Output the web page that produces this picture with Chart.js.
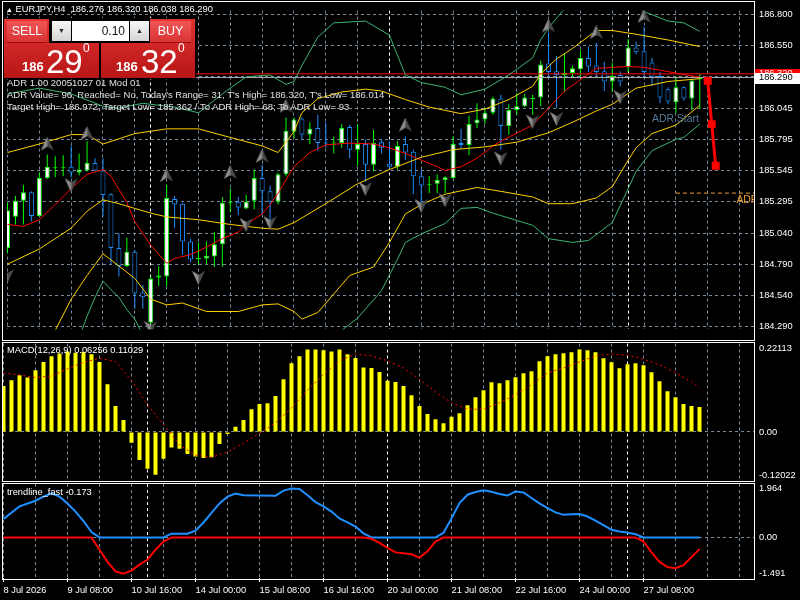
<!DOCTYPE html>
<html>
<head>
<meta charset="utf-8">
<script src="https://cdn.jsdelivr.net/npm/chart.js@4.4.1/dist/chart.umd.min.js"></script>
<style>
  html, body { margin: 0; padding: 0; background: #000; }
  body { width: 800px; height: 600px; position: relative; overflow: hidden; font-family: "Liberation Sans", Arial, sans-serif; }
  canvas { position: absolute; left: 0; z-index: 0; }
  #cMain { top: 0; }
  #cMacd { top: 340px; }
  #cTrend { top: 482px; }
  .frame { position: absolute; left: 2px; width: 753px; border: 1px solid #fff; box-sizing: border-box; z-index: 1; }
  .txt { position: absolute; color: #fff; font-size: 9.3px; white-space: pre; line-height: 12px; z-index: 2; }
  .adr { color: #e0e0e0; font-size: 9.5px; left: 7px; }
  #trade div { position: absolute; z-index: 3; }
  .blk { background: linear-gradient(#e23232, #b81616); }
  .btn { height: 21px; background: linear-gradient(#ef5656, #d93434); border-bottom: 1px solid #9a1010; color: #fff; font-size: 12.5px; line-height: 21px; text-align: center; }
  .arr { top: 21px; width: 19px; height: 20px; background: linear-gradient(#f6f6f6, #d6d6d6); font-size: 7px; line-height: 20px; text-align: center; color: #222; }
  .lot { left: 72px; top: 21px; width: 57px; height: 20px; background: #fff; font-size: 12px; line-height: 20px; text-align: right; padding-right: 4px; box-sizing: border-box; color: #111; }
  .ps { color: #fff; font-size: 13px; font-weight: bold; top: 60px; line-height: 13px; }
  .pb { color: #fff; font-size: 33px; top: 45px; line-height: 33px; }
  .pu { color: #fff; font-size: 12px; top: 42px; line-height: 12px; }
</style>
</head>
<body>
<canvas id="cMain" width="800" height="340"></canvas>
<canvas id="cMacd" width="800" height="142"></canvas>
<canvas id="cTrend" width="800" height="118"></canvas>

<div class="frame" style="top:1px;height:340px"></div>
<div class="frame" style="top:342px;height:140px"></div>
<div class="frame" style="top:483px;height:97px"></div>

<div class="txt" style="left:6px;top:3px"><span style="font-size:7px">▲</span> EURJPY,H4  186.276 186.320 186.038 186.290</div>
<div class="txt adr" style="top:77px">ADR 1.00 20051027 01 Mod 01</div>
<div class="txt adr" style="top:89px">ADR Value= 96, Reached= No, Today's Range= 31, T's High= 186.320, T's Low= 186.014</div>
<div class="txt adr" style="top:101px">Target High= 186.972; Target Low= 185.362 / To ADR High= 68; To ADR Low= 93</div>
<div class="txt" style="left:7px;top:344px">MACD(12,26,9) 0.06256 0.11029</div>
<div class="txt" style="left:7px;top:486px">trendline_fast -0.173</div>

<div id="trade">
  <div style="left:3px;top:18px;width:193px;height:61px;background:#000"></div>
  <div class="blk" style="left:4px;top:19px;width:95px;height:59px"></div>
  <div class="blk" style="left:101px;top:19px;width:94px;height:59px"></div>
  <div class="btn" style="left:7px;top:21px;width:40px">SELL</div>
  <div class="btn" style="left:150px;top:21px;width:41px">BUY</div>
  <div style="left:49px;top:18px;width:101px;height:25px;background:#000"></div>
  <div class="arr" style="left:52px">▼</div>
  <div class="lot">0.10</div>
  <div class="arr" style="left:130px">▲</div>
  <div class="ps" style="left:22px">186</div>
  <div class="pb" style="left:46px">29</div>
  <div class="pu" style="left:83px">0</div>
  <div class="ps" style="left:116px">186</div>
  <div class="pb" style="left:141px">32</div>
  <div class="pu" style="left:178px">0</div>
</div>

<script>
// ---- candles EURJPY H4 ----
var opens = [184.920,185.171,185.300,185.369,185.179,185.483,185.562,185.562,185.574,185.528,
  185.543,185.604,185.543,185.353,184.920,184.776,184.890,184.563,184.320,184.685,
  184.692,185.315,185.277,184.973,184.833,184.837,184.852,184.951,185.281,185.293,
  185.239,185.300,185.483,185.376,185.293,185.513,185.855,185.961,185.832,185.885,
  185.768,185.760,185.764,185.893,185.711,185.756,185.589,185.771,185.597,185.574,
  185.756,185.695,185.498,185.426,185.437,185.467,185.483,185.764,185.749,185.923,
  185.954,186.007,186.121,185.901,186.030,186.060,186.117,186.129,186.402,186.341,
  186.311,186.326,186.357,186.448,186.387,186.341,186.258,186.311,186.372,186.531,
  186.501,186.410,186.303,186.197,186.091,186.212,186.121,186.276];
var highs = [185.285,185.338,185.429,185.376,185.528,185.673,185.657,185.665,185.741,185.680,
  185.779,185.642,185.642,185.361,185.042,185.004,184.905,184.624,184.692,184.776,
  185.429,185.338,185.283,184.996,184.966,184.973,185.049,185.331,185.399,185.331,
  185.346,185.551,185.589,185.422,185.528,185.969,185.969,185.969,185.931,185.992,
  185.931,185.817,185.916,185.908,185.916,185.794,185.870,185.794,185.779,185.779,
  185.817,185.711,185.551,185.498,185.513,185.498,185.817,185.878,185.984,186.083,
  186.045,186.136,186.151,186.075,186.167,186.159,186.151,186.425,186.653,186.463,
  186.486,186.387,186.509,186.539,186.569,186.417,186.410,186.341,186.600,186.577,
  186.699,186.448,186.334,186.212,186.296,186.220,186.281,186.320];
var lows = [184.882,185.110,185.110,185.133,185.171,185.475,185.490,185.498,185.490,185.505,
  185.536,185.536,185.171,184.791,184.692,184.768,184.434,184.434,184.312,184.616,
  184.616,185.080,184.867,184.806,184.791,184.791,184.768,184.768,185.209,185.186,
  185.232,185.232,185.194,185.148,185.270,185.498,185.802,185.794,185.756,185.703,
  185.726,185.680,185.726,185.642,185.581,185.452,185.536,185.680,185.551,185.551,
  185.627,185.353,185.285,185.361,185.361,185.361,185.475,185.718,185.665,185.885,
  185.916,185.992,185.711,185.832,185.992,186.053,185.992,186.060,186.288,186.045,
  186.174,186.288,186.296,186.334,186.303,186.182,186.174,186.220,186.334,186.478,
  186.296,186.220,186.083,186.075,186.007,186.106,186.030,186.038];
var closes = [185.224,185.300,185.369,185.179,185.483,185.574,185.570,185.570,185.528,185.551,
  185.604,185.543,185.346,184.920,184.776,184.890,184.555,184.525,184.677,184.700,
  185.323,185.270,184.973,184.829,184.840,184.859,184.951,185.285,185.289,185.247,
  185.293,185.483,185.376,185.293,185.513,185.863,185.954,185.832,185.878,185.764,
  185.760,185.768,185.885,185.711,185.756,185.589,185.764,185.726,185.574,185.741,
  185.688,185.498,185.422,185.433,185.467,185.490,185.756,185.749,185.916,185.954,
  186.007,186.121,185.901,186.030,186.060,186.129,186.125,186.395,186.334,186.311,
  186.326,186.364,186.448,186.379,186.334,186.258,186.303,186.258,186.531,186.493,
  186.334,186.296,186.129,186.098,186.212,186.121,186.265,186.290];

// ---- indicator lines on price chart [bar, price] ----
var upperGreen = [[0,186.159],[4,186.205],[8,186.159],[12,186.060],[14,186.045],[17,186.083],[21,186.053],
  [24,186.007],[27,186.159],[30,186.296],[33,186.311],[35,186.235],[36,186.258],[37,186.387],[39,186.615],
  [41,186.729],[45,186.744],[48,186.630],[50,186.311],[52,186.250],[55,186.212],[57,186.151],[60,186.197],
  [63,186.311],[66,186.448],[67,186.592],[68,186.691],[70,186.843],[73,186.957],[77,186.934],[80,186.820],
  [83,186.744],[85,186.729],[87,186.661]];
var upperYellow = [[0,185.688],[4,185.756],[8,185.832],[10,185.832],[12,185.756],[16,185.840],[20,185.878],
  [24,185.878],[28,185.809],[32,185.741],[34,185.688],[36,185.855],[37,186.007],[39,186.121],[42,186.174],
  [45,186.197],[47,186.182],[50,186.113],[53,186.053],[57,186.000],[60,186.037],[63,186.113],[66,186.220],
  [67,186.319],[69,186.440],[71,186.524],[74,186.668],[76,186.668],[79,186.638],[83,186.592],[87,186.539]];
var midYellow = [[0,184.791],[4,184.913],[8,185.080],[10,185.217],[12,185.308],[14,185.277],[16,185.239],
  [18,185.201],[20,185.171],[24,185.148],[28,185.110],[32,185.080],[34,185.072],[36,185.125],[40,185.277],
  [44,185.437],[48,185.551],[52,185.650],[56,185.711],[60,185.733],[64,185.771],[68,185.847],[71,185.931],
  [74,186.022],[76,186.075],[79,186.205],[83,186.258],[87,186.281]];
var lowYellow = [[0,183.803],[4,184.069],[6,184.259],[8,184.510],[10,184.700],[12,184.875],[14,184.776],
  [16,184.677],[18,184.510],[20,184.464],[22,184.479],[25,184.411],[29,184.411],[32,184.464],[34,184.472],
  [36,184.411],[37,184.350],[39,184.403],[43,184.700],[46,184.768],[48,184.966],[50,185.194],[52,185.270],
  [55,185.353],[59,185.407],[62,185.376],[66,185.331],[68,185.277],[71,185.277],[74,185.323],[76,185.414],
  [78,185.627],[79,185.726],[81,185.840],[84,185.908],[87,186.068]];
var lowGreen = [[0,183.650],[4,183.803],[8,184.107],[9,184.200],[10,184.373],[11,184.525],[12,184.654],
  [13,184.586],[14,184.525],[15,184.426],[16,184.350],[17,184.221],[20,183.955],[25,183.803],[30,183.841],
  [36,183.950],[40,184.100],[42,184.259],[44,184.358],[47,184.578],[49,184.829],[50,184.966],[52,185.034],
  [55,185.118],[57,185.239],[59,185.247],[61,185.201],[66,185.103],[68,184.996],[71,184.966],[73,184.981],
  [76,185.125],[79,185.536],[81,185.703],[84,185.794],[85,185.809],[87,185.916]];
var redMA = [[0,185.110],[2,185.095],[4,185.148],[6,185.270],[8,185.399],[10,185.513],[12,185.551],
  [13,185.498],[15,185.285],[16,185.133],[18,184.943],[20,184.799],[21,184.837],[23,184.867],[25,184.928],
  [27,184.996],[29,185.049],[30,185.110],[32,185.194],[33,185.270],[34,185.361],[36,185.574],[38,185.688],
  [40,185.749],[43,185.764],[46,185.756],[48,185.726],[50,185.680],[52,185.627],[54,185.574],[55,185.543],
  [57,185.574],[59,185.642],[61,185.741],[62,185.779],[66,185.908],[68,186.045],[70,186.182],[72,186.273],
  [74,186.364],[78,186.379],[80,186.372],[82,186.349],[84,186.326],[86,186.303],[87,186.296]];
var fractalUp = [[5,185.756],[10,185.840],[20,185.505],[28,185.528],[32,185.657],[35,186.060],[50,185.908],
  [68,186.706],[74,186.653],[80,186.782]];
var fractalDown = [[0,184.700],[8,185.429],[18,184.282],[24,184.685],[30,185.110],[33,185.125],[45,185.399],
  [52,185.262],[55,185.308],[62,185.642],[66,185.939],[69,185.961],[77,186.136]];
var adrProjection = [[88,186.265],[88.5,185.916],[89,185.581]];
var askPrice = 186.320, bidPrice = 186.290, targetLow = 185.362;
var adrLineStartBar = 84, adrStartLabel = [81, 185.954];

// ---- MACD (12,26,9) ----
var macdHist = [0.115,0.129,0.142,0.136,0.154,0.175,0.189,0.196,0.201,0.198,
  0.200,0.194,0.175,0.119,0.065,0.030,-0.027,-0.070,-0.092,-0.107,
  -0.067,-0.039,-0.042,-0.055,-0.061,-0.065,-0.063,-0.030,-0.005,0.013,
  0.030,0.057,0.070,0.072,0.090,0.132,0.172,0.189,0.206,0.206,
  0.204,0.201,0.206,0.194,0.185,0.161,0.160,0.150,0.128,0.125,
  0.115,0.092,0.065,0.045,0.032,0.022,0.038,0.047,0.067,0.087,
  0.104,0.124,0.122,0.129,0.137,0.147,0.152,0.177,0.189,0.194,
  0.197,0.199,0.206,0.204,0.199,0.184,0.174,0.159,0.169,0.172,
  0.167,0.149,0.127,0.102,0.087,0.070,0.065,0.0626];
var macdSignal = [[0,0.147],[2,0.143],[4,0.136],[6,0.140],[8,0.158],[10,0.174],[12,0.184],[14,0.176],
  [16,0.128],[18,0.068],[20,0.018],[22,-0.032],[24,-0.058],[26,-0.063],[28,-0.050],[30,-0.028],[32,-0.003],
  [34,0.023],[36,0.060],[38,0.105],[40,0.143],[42,0.178],[44,0.195],[46,0.190],[48,0.178],[50,0.160],
  [52,0.132],[54,0.100],[56,0.073],[58,0.057],[60,0.057],[62,0.073],[64,0.093],[66,0.118],[68,0.148],
  [70,0.160],[72,0.175],[74,0.190],[76,0.195],[78,0.192],[80,0.182],[82,0.168],[84,0.148],[86,0.125],[87,0.110]];

// ---- trendline_fast ----
var trendBlue = [[0,0.68],[2,1.14],[4,1.35],[5,1.50],[6,1.62],[7,1.50],[8,1.25],[9,0.95],[10,0.60],[11,0.20],
  [12,0],[20,0],[21,0.14],[23,0.14],[24,0.25],[25,0.55],[26,0.90],[27,1.25],[28,1.50],[29,1.61],[30,1.55],
  [34,1.53],[35,1.72],[36,1.80],[37,1.78],[38,1.55],[39,1.30],[40,1.14],[41,0.95],[42,0.70],[43,0.55],
  [44,0.40],[45,0.15],[46,0],[54,0],[55,0.17],[56,0.70],[57,1.26],[58,1.57],[59,1.67],[60,1.73],[61,1.68],
  [62,1.60],[63,1.54],[64,1.69],[65,1.65],[66,1.45],[67,1.25],[68,1.08],[69,0.92],[70,0.83],[71,0.85],
  [72,0.86],[73,0.77],[74,0.62],[75,0.45],[76,0.28],[77,0.22],[78,0.18],[79,0.12],[80,0],[87,0]];
var trendRed = [[0,0],[11,0],[12,-0.45],[13,-0.90],[14,-1.25],[15,-1.33],[16,-1.22],[17,-1.00],[18,-0.82],
  [19,-0.45],[20,-0.15],[21,0],[45,0],[46,-0.05],[47,-0.20],[48,-0.38],[49,-0.55],[50,-0.58],[51,-0.62],
  [52,-0.74],[53,-0.51],[54,-0.15],[55,0],[79,0],[80,-0.15],[81,-0.55],[82,-0.90],[83,-1.09],[84,-1.13],
  [85,-1.02],[86,-0.72],[87,-0.43]];

// ---- axes ----
var priceTicks = [184.290,184.540,184.790,185.040,185.295,185.545,185.795,186.045,186.300,186.550,186.800];
var timeLabels = ['8 Jul 2026','9 Jul 08:00','10 Jul 16:00','14 Jul 00:00','15 Jul 08:00','16 Jul 16:00',
  '20 Jul 00:00','21 Jul 08:00','22 Jul 16:00','24 Jul 00:00','27 Jul 08:00'];
var timeLabelBars = [0,8,16,24,32,40,48,56,64,72,80];
var weekStartBars = [18,48,78];
var macdAxis = [[0.22113,'0.22113','top'],[0,'0.00','middle'],[-0.12022,'-0.12022','bottom']];
var trendAxis = [[1.964,'1.964','top'],[0,'0.00','middle'],[-1.491,'-1.491','bottom']];

Chart.defaults.font.family = '"Liberation Sans", Arial, sans-serif';
Chart.defaults.font.size = 9.3;
Chart.defaults.color = '#fff';

var gridColor = '#778899';
var xTicks = [];
for (var g = 0; g <= 92; g += 4) xTicks.push(g);
weekStartBars.forEach(function (b) { if (xTicks.indexOf(b) < 0) xTicks.push(b); });
xTicks.sort(function (a, b) { return a - b; });

function xScale(showLabels) {
  return {
    type: 'linear', min: -0.0625, max: 93.8125, offset: false,
    afterBuildTicks: function (s) { s.ticks = xTicks.map(function (v) { return { value: v }; }); },
    afterFit: function (s) { s.height = showLabels ? 22 : 0; },
    grid: {
      offset: false, drawTicks: showLabels, tickLength: 4,
      color: function (c) { return c.tick && weekStartBars.indexOf(c.tick.value) >= 0 ? '#ffffff' : gridColor; },
      tickColor: function (c) { return c.tick && timeLabelBars.indexOf(c.tick.value) >= 0 ? '#ffffff' : 'rgba(0,0,0,0)'; }
    },
    border: { display: false, dash: [3, 3] },
    ticks: {
      display: showLabels, autoSkip: false, maxRotation: 0, minRotation: 0, align: 'start', padding: 3, color: '#fff',
      callback: function (v) { var k = timeLabelBars.indexOf(v); return k >= 0 ? timeLabels[k] : ''; }
    }
  };
}

function sideY(min, max) {
  return {
    position: 'right', min: min, max: max,
    afterBuildTicks: function (s) { s.ticks = [{ value: 0 }]; },
    afterFit: function (s) { s.width = 46; },
    grid: { color: gridColor, drawTicks: false },
    border: { display: false, dash: [3, 3] },
    ticks: { display: false }
  };
}

var sideLabels = {
  id: 'sideLabels',
  afterDraw: function (chart, args, opts) {
    var ctx = chart.ctx, y = chart.scales.y, area = chart.chartArea;
    ctx.save();
    ctx.font = '9.3px "Liberation Sans", Arial, sans-serif';
    ctx.fillStyle = '#fff';
    ctx.textAlign = 'left';
    opts.items.forEach(function (it) {
      ctx.textBaseline = it[2];
      ctx.fillText(it[1], area.right + 5, y.getPixelForValue(it[0]));
    });
    ctx.restore();
  }
};

var mainOverlay = {
  id: 'mainOverlay',
  afterDatasetsDraw: function (chart) {
    var ctx = chart.ctx, x = chart.scales.x, y = chart.scales.y, a = chart.chartArea;
    ctx.save();
    ctx.beginPath(); ctx.rect(a.left, a.top, a.right - a.left, a.bottom - a.top); ctx.clip();
    ctx.font = '10.4px "Liberation Sans", Arial, sans-serif';
    ctx.textBaseline = 'middle'; ctx.textAlign = 'left';
    ctx.fillStyle = '#557a9c';
    ctx.fillText('ADR Start', x.getPixelForValue(adrStartLabel[0]), y.getPixelForValue(adrStartLabel[1]));
    ctx.fillStyle = '#f0a030';
    ctx.fillText('ADR Low', x.getPixelForValue(91.6), y.getPixelForValue(targetLow) + 7);
    ctx.restore();
  },
  afterDraw: function (chart) {
    var ctx = chart.ctx, y = chart.scales.y, a = chart.chartArea;
    ctx.save();
    ctx.font = '9.3px "Liberation Sans", Arial, sans-serif';
    ctx.textBaseline = 'middle'; ctx.textAlign = 'left';
    var ya = y.getPixelForValue(askPrice);
    ctx.fillStyle = '#ff0000'; ctx.fillRect(a.right + 1, Math.round(ya) - 5, 45, 11);
    ctx.fillStyle = '#fff'; ctx.fillText(askPrice.toFixed(3), a.right + 5, ya);
    var yb = y.getPixelForValue(bidPrice);
    ctx.fillStyle = '#ffffff'; ctx.fillRect(a.right + 1, Math.round(yb) - 5, 45, 11);
    ctx.fillStyle = '#000'; ctx.fillText(bidPrice.toFixed(3), a.right + 5, yb);
    ctx.restore();
  }
};

function arrowImg(up) {
  var c = document.createElement('canvas');
  c.width = 13; c.height = 15;
  var g2 = c.getContext('2d');
  if (!up) { g2.translate(0, 15); g2.scale(1, -1); }
  g2.beginPath(); g2.moveTo(6.5, 0); g2.lineTo(13, 14); g2.lineTo(6.5, 10); g2.lineTo(0, 14); g2.closePath();
  g2.fillStyle = '#4a4a4a'; g2.fill();
  g2.beginPath(); g2.moveTo(6.5, 0); g2.lineTo(6.5, 10); g2.lineTo(0, 14); g2.closePath();
  g2.fillStyle = '#8c8c8c'; g2.fill();
  return c;
}

function line(data, color, extra) {
  var d = { type: 'line', data: data, borderColor: color, borderWidth: 1, pointRadius: 0, tension: 0, order: 5 };
  for (var k in extra) d[k] = extra[k];
  return d;
}

var idx = opens.map(function (_, i) { return i; });
var bull = idx.map(function (i) { return closes[i] >= opens[i]; });
var edge = idx.map(function (i) { return bull[i] ? '#00ff00' : '#1e90ff'; });
var fill = idx.map(function (i) {
  return Math.abs(closes[i] - opens[i]) < 0.01 ? edge[i] : (bull[i] ? '#ffffff' : '#000000');
});

new Chart(document.getElementById('cMain'), {
  type: 'bar',
  data: {
    datasets: [
      { type: 'bar', data: idx.map(function (i) { return { x: i, y: [lows[i], highs[i]] }; }),
        backgroundColor: edge, barThickness: 1, grouped: false, inflateAmount: 0, order: 20 },
      { type: 'bar', data: idx.map(function (i) { return { x: i, y: [opens[i], closes[i]] }; }),
        backgroundColor: fill, borderColor: edge, borderWidth: 1, borderSkipped: false,
        barThickness: 5, grouped: false, inflateAmount: 0, order: 19 },
      line([[-1, bidPrice], [95, bidPrice]], '#a9a9a9', { order: 15 }),
      line([[-1, askPrice], [95, askPrice]], '#ff0000', { order: 15 }),
      line(upperGreen, '#3cb371'),
      line(lowGreen, '#3cb371'),
      line(upperYellow, '#ffd000'),
      line(midYellow, '#ffd000'),
      line(lowYellow, '#ffd000'),
      line(redMA, '#ff0000'),
      line([[adrLineStartBar, targetLow], [95, targetLow]], '#f0a030', { borderDash: [4, 3] }),
      line(adrProjection, '#ff0000', { borderWidth: 3, pointRadius: 3.5, pointStyle: 'rect',
        pointBackgroundColor: '#ff0000', pointBorderColor: '#ff0000', order: 2 }),
      line(fractalUp, '#777', { showLine: false, pointRadius: 6, pointStyle: arrowImg(true), order: 1 }),
      line(fractalDown, '#777', { showLine: false, pointRadius: 6, pointStyle: arrowImg(false), order: 1 })
    ]
  },
  options: {
    responsive: false, animation: false, devicePixelRatio: 1,
    layout: { padding: { left: 3, top: 2, bottom: 1, right: 0 } },
    plugins: { legend: { display: false }, tooltip: { enabled: false } },
    scales: {
      x: xScale(false),
      y: {
        position: 'right', min: 184.267, max: 186.828,
        afterBuildTicks: function (s) { s.ticks = priceTicks.map(function (v) { return { value: v }; }); },
        afterFit: function (s) { s.width = 46; },
        grid: { color: gridColor, drawTicks: false },
        border: { display: false, dash: [3, 3] },
        ticks: { color: '#fff', padding: 5, callback: function (v) { return v.toFixed(3); } }
      }
    }
  },
  plugins: [mainOverlay]
});

new Chart(document.getElementById('cMacd'), {
  type: 'bar',
  data: {
    datasets: [
      { type: 'bar', data: idx.map(function (i) { return { x: i, y: macdHist[i] }; }),
        backgroundColor: '#ffff00', barThickness: 4, grouped: false, inflateAmount: 0, order: 10 },
      line(macdSignal, '#ff0000', { borderDash: [2, 3], order: 1 })
    ]
  },
  options: {
    responsive: false, animation: false, devicePixelRatio: 1,
    layout: { padding: { left: 3, top: 3.5, bottom: 1.9, right: 0 } },
    plugins: { legend: { display: false }, tooltip: { enabled: false }, sideLabels: { items: macdAxis } },
    scales: { x: xScale(false), y: sideY(-0.12022, 0.22113) }
  },
  plugins: [sideLabels]
});

new Chart(document.getElementById('cTrend'), {
  type: 'line',
  data: {
    datasets: [
      line(trendBlue, '#1e90ff', { borderWidth: 2, order: 2 }),
      line(trendRed, '#ff0000', { borderWidth: 2, order: 1 })
    ]
  },
  options: {
    responsive: false, animation: false, devicePixelRatio: 1,
    layout: { padding: { left: 3, top: 2, bottom: 0, right: 0 } },
    plugins: { legend: { display: false }, tooltip: { enabled: false }, sideLabels: { items: trendAxis } },
    scales: { x: xScale(true), y: sideY(-1.491, 1.964) }
  },
  plugins: [sideLabels]
});
</script>
</body>
</html>
